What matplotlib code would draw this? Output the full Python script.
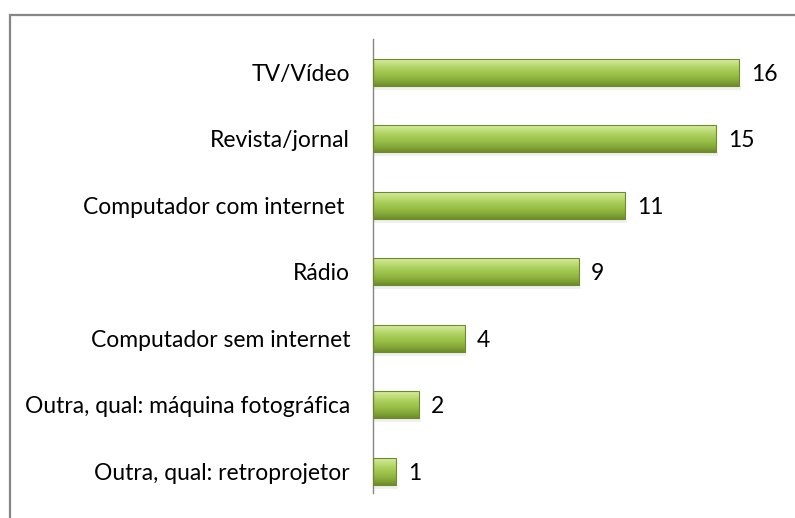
import numpy as np
import matplotlib.pyplot as plt
from matplotlib.colors import LinearSegmentedColormap
from matplotlib.patches import Rectangle

categories = ['TV/Vídeo', 'Revista/jornal', 'Computador com internet ', 'Rádio',
              'Computador sem internet', 'Outra, qual: máquina fotográfica',
              'Outra, qual: retroprojetor']
values = [16, 15, 11, 9, 4, 2, 1]

plt.rcParams['font.family'] = ['Lato', 'DejaVu Sans']

fig = plt.figure(figsize=(7.95, 5.18), dpi=100)
ax = fig.add_axes([373 / 795, (518 - 504.5) / 518, 412 / 795, 465.5 / 518])

# outer chart border (top and left visible)
fig.patches.append(Rectangle((9.5 / 795, -0.1), 1.0, (518 - 15.5) / 518 + 0.1,
                             transform=fig.transFigure, fill=False,
                             edgecolor='#868686', linewidth=1.6))

y = np.arange(len(categories))
h = 0.40
bars = ax.barh(y, values, height=h, color='none', edgecolor='#6d8a2c',
               linewidth=0.8, zorder=3)

grad = LinearSegmentedColormap.from_list(
    'g', ['#d8eda0', '#bedc78', '#a8cd58', '#98bf47', '#86a93a', '#6e8c2a'])
img = np.linspace(0, 1, 100).reshape(-1, 1)
for b, v in zip(bars, values):
    x0, y0 = b.get_x(), b.get_y()
    # soft shadow
    ax.add_patch(Rectangle((x0, y0 + h), v + 0.08, 0.06, facecolor='#e6e6e6',
                           edgecolor='none', alpha=0.6, zorder=1))
    im = ax.imshow(img, cmap=grad, aspect='auto', zorder=2,
                   extent=[x0, x0 + v, y0 + h, y0], origin='upper')
    im.set_clip_path(b)
    ax.text(v + 0.52, y0 + h / 2 + 0.03, str(v), va='center', ha='left',
            fontsize=16.5, color='black')

ax.set_xlim(0, 18)
ax.set_ylim(len(categories) - 0.5, -0.5)
ax.set_yticks(y)
ax.set_yticklabels(categories, fontsize=16.5)
ax.tick_params(axis='y', length=0, pad=16.5)
ax.set_xticks([])
for s in ['top', 'right', 'bottom']:
    ax.spines[s].set_visible(False)
ax.spines['left'].set_color('#868686')
ax.spines['left'].set_linewidth(1.0)
ax.spines['left'].set_bounds(6.32, -0.5)

fig.savefig('out.png', dpi=100)
